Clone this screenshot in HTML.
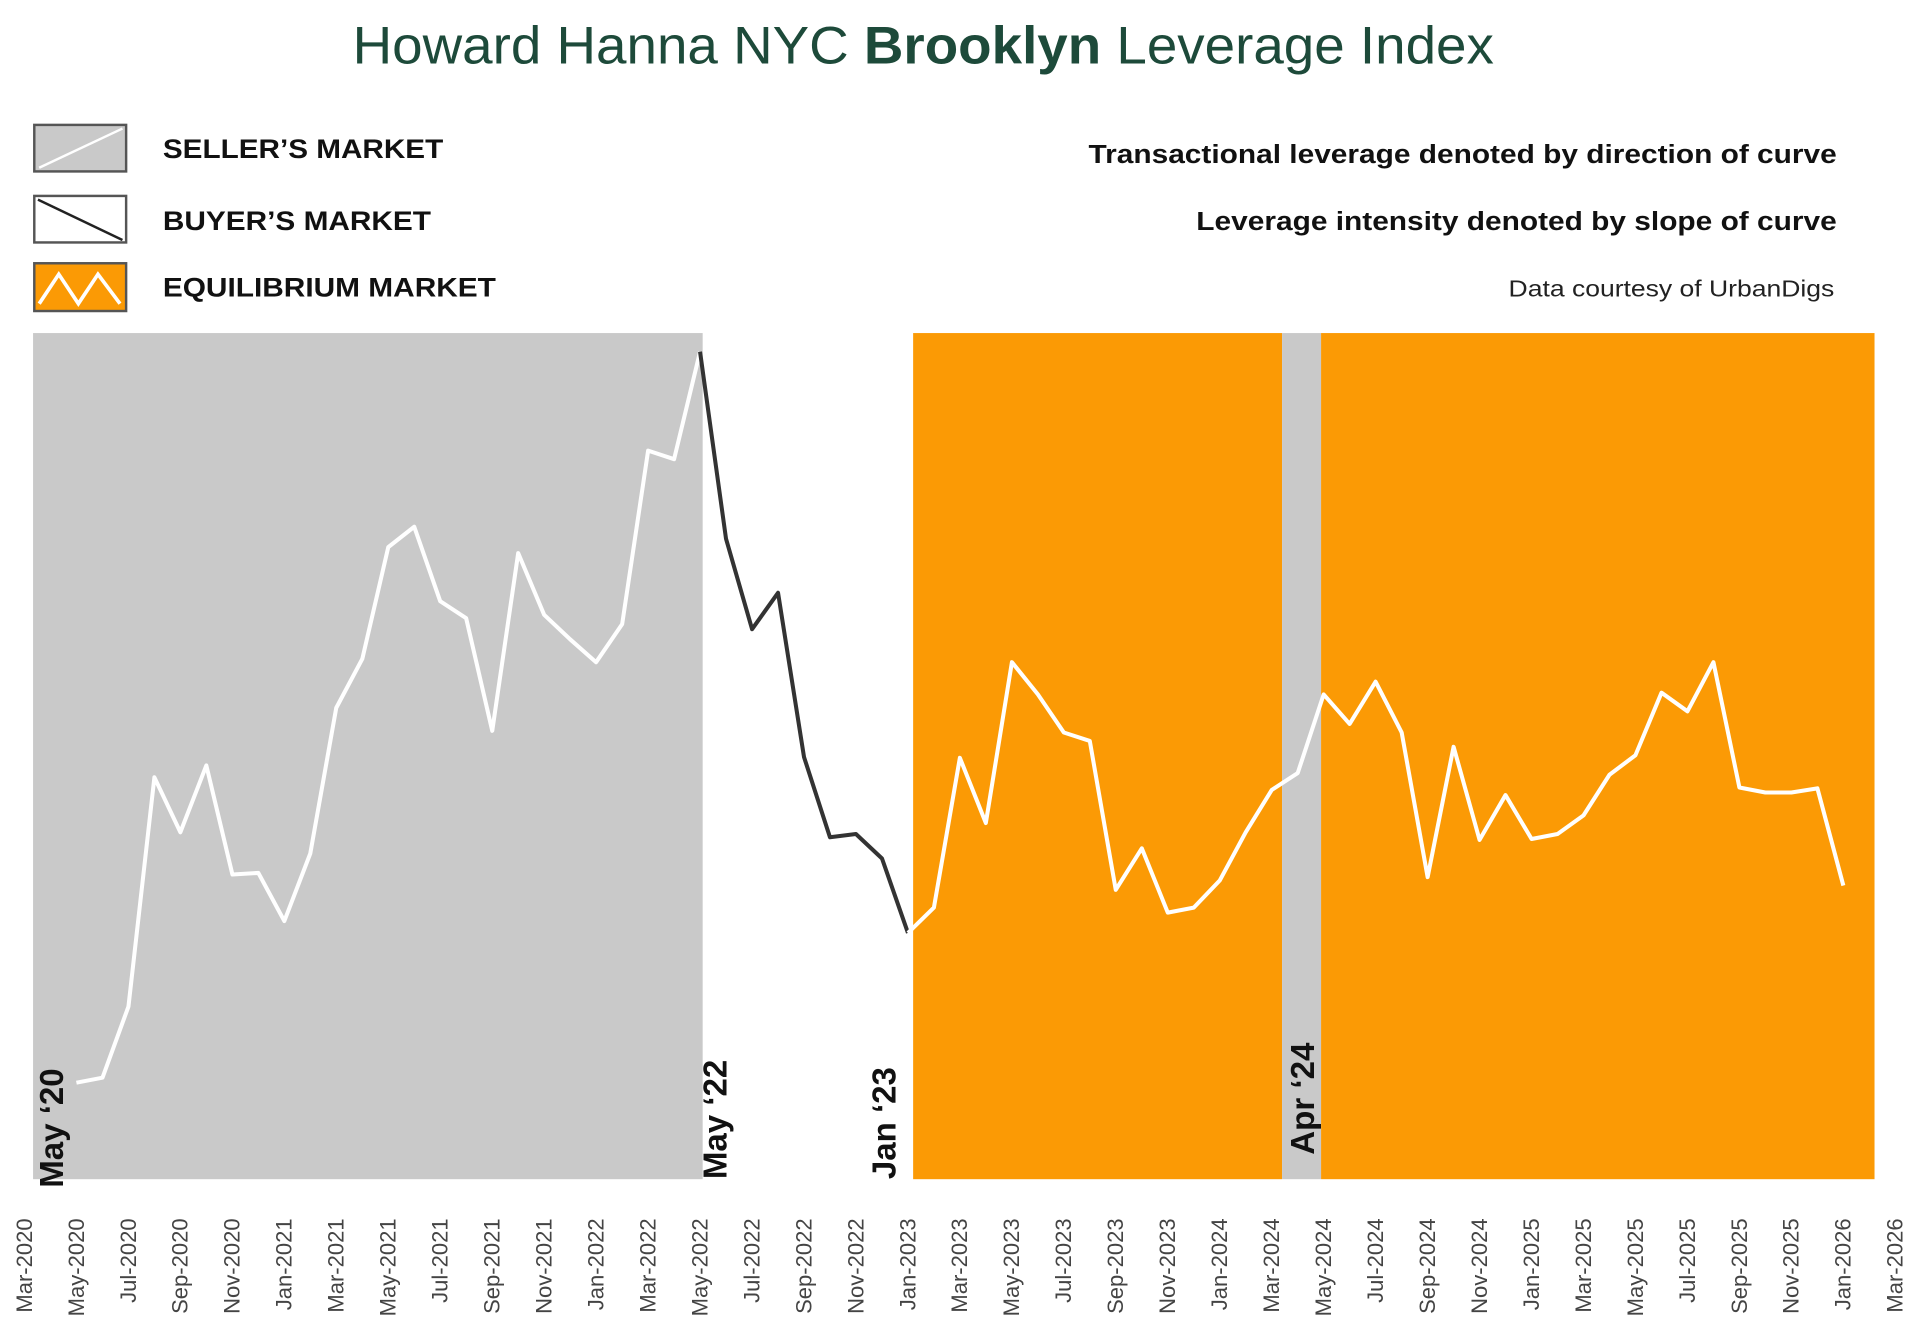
<!DOCTYPE html>
<html><head><meta charset="utf-8"><style>
html,body{margin:0;padding:0;background:#fff;}
svg{display:block;}
text{font-family:"Liberation Sans",Arial,sans-serif;}
</style></head><body>
<svg id="chart" width="1920" height="1338" viewBox="0 0 1568 1092.7" preserveAspectRatio="none" xmlns="http://www.w3.org/2000/svg">
<text x="288" y="52" font-size="43" fill="#1d4a3a" textLength="932" lengthAdjust="spacingAndGlyphs">Howard Hanna NYC <tspan font-weight="bold">Brooklyn</tspan> Leverage Index</text>
<g>
<g>
<rect x="28" y="102" width="75" height="38" fill="#c9c9c9" stroke="#555" stroke-width="2"/>
<line x1="32" y1="137" x2="100" y2="105" stroke="#fff" stroke-width="2"/>
<text x="133" y="129" font-size="22" font-weight="bold" fill="#111" textLength="229" lengthAdjust="spacingAndGlyphs">SELLER’S MARKET</text></g>
<g>
<rect x="28" y="160" width="75" height="38" fill="#fff" stroke="#555" stroke-width="2"/>
<line x1="31" y1="163" x2="100" y2="196" stroke="#222" stroke-width="2"/>
<text x="133" y="188" font-size="22" font-weight="bold" fill="#111" textLength="219" lengthAdjust="spacingAndGlyphs">BUYER’S MARKET</text></g>
<g>
<rect x="28" y="215" width="75" height="39" fill="#fb9a05" stroke="#555" stroke-width="2"/>
<polyline points="32,248 48,224 64,248 80,224 98,248" fill="none" stroke="#fff" stroke-width="3"/>
<text x="133" y="242" font-size="22" font-weight="bold" fill="#111" textLength="272" lengthAdjust="spacingAndGlyphs">EQUILIBRIUM MARKET</text></g>
</g>
<text x="889" y="133" font-size="21" font-weight="bold" fill="#111" textLength="611" lengthAdjust="spacingAndGlyphs">Transactional leverage denoted by direction of curve</text>
<text x="977" y="188" font-size="21" font-weight="bold" fill="#111" textLength="523" lengthAdjust="spacingAndGlyphs">Leverage intensity denoted by slope of curve</text>
<text x="1232" y="242" font-size="19" fill="#222" textLength="266" lengthAdjust="spacingAndGlyphs">Data courtesy of UrbanDigs</text>
<g id="plot"></g>
</svg>
<script>
// month index 0 = Mar-2020
const tickLabels = ["Mar-2020","May-2020","Jul-2020","Sep-2020","Nov-2020","Jan-2021","Mar-2021","May-2021","Jul-2021","Sep-2021","Nov-2021","Jan-2022","Mar-2022","May-2022","Jul-2022","Sep-2022","Nov-2022","Jan-2023","Mar-2023","May-2023","Jul-2023","Sep-2023","Nov-2023","Jan-2024","Mar-2024","May-2024","Jul-2024","Sep-2024","Nov-2024","Jan-2025","Mar-2025","May-2025","Jul-2025","Sep-2025","Nov-2025","Jan-2026","Mar-2026"];
const seriesStart = 2; // May-2020
const values = [11.4,12.0,20.4,47.5,41.0,48.9,36.0,36.2,30.5,38.5,55.7,61.5,74.7,77.1,68.3,66.3,53.0,74.0,66.7,63.8,61.1,65.6,86.1,85.1,97.8,75.7,65.0,69.3,49.9,40.4,40.8,37.9,29.1,32.1,49.8,42.1,61.1,57.3,52.8,51.8,34.2,39.1,31.5,32.1,35.3,41.0,46.0,48.0,57.3,53.8,58.8,52.8,35.7,51.1,40.1,45.4,40.2,40.8,43.0,47.8,50.1,57.5,55.3,61.1,46.3,45.7,45.7,46.2,34.7];
const regionStart = [0.33,34.2,48.4,49.9];
const regionEnd = [26.1,48.4,49.9,71.2];
const regionType = ["seller","equilibrium","seller","equilibrium"];
const buyerStartIdx = 24, buyerEndIdx = 32;
const markerLabels = ["May ‘20","May ‘22","Jan ‘23","Apr ‘24"];
const markerMonths = [1.05,26.6,33.1,49.2];
const markerBottoms = [970,963,963,943];

const NS="http://www.w3.org/2000/svg";
const plot=document.getElementById('plot');
const X0=20, DX=21.22, YB=963, YT=272;
const xs=m=>X0+m*DX;
const ys=v=>YB-(v/100)*(YB-YT);
function mk(tag,attrs,parent){const e=document.createElementNS(NS,tag);for(const k in attrs)e.setAttribute(k,attrs[k]);(parent||plot).appendChild(e);return e;}
regionStart.forEach((s,i)=>{
  const r=mk('rect',{x:xs(s),y:YT,width:xs(regionEnd[i])-xs(s),height:YB-YT,fill:regionType[i]==='seller'?'#c9c9c9':'#fb9a05'});
  
  
});
function seg(a,b,color,name){
  const pts=[];for(let i=a;i<=b;i++)pts.push(xs(seriesStart+i).toFixed(1)+','+ys(values[i]).toFixed(1));
  const p=mk('polyline',{points:pts.join(' '),fill:'none',stroke:color,'stroke-width':3.3,'stroke-linejoin':'round'});
  
  
}
seg(0,buyerStartIdx,'#ffffff','line-seller-segment');
seg(buyerStartIdx,buyerEndIdx,'#333333','line-buyer-segment');
seg(buyerEndIdx,values.length-1,'#ffffff','line-equilibrium-segment');
markerLabels.forEach((t,i)=>{
  const x=xs(markerMonths[i]);
  const e=mk('text',{x:0,y:0,transform:`translate(${x+9},${markerBottoms[i]}) rotate(-90)`,'font-size':27,'font-weight':'bold',fill:'#111'});
  e.textContent=t;
  
  
});
tickLabels.forEach((t,i)=>{
  const x=xs(i*2);
  const e=mk('text',{x:0,y:0,transform:`translate(${x+6},995) rotate(-90)`,'text-anchor':'end','font-size':18,fill:'#444'});
  e.textContent=t;
  
  
});
</script>
</body></html>
